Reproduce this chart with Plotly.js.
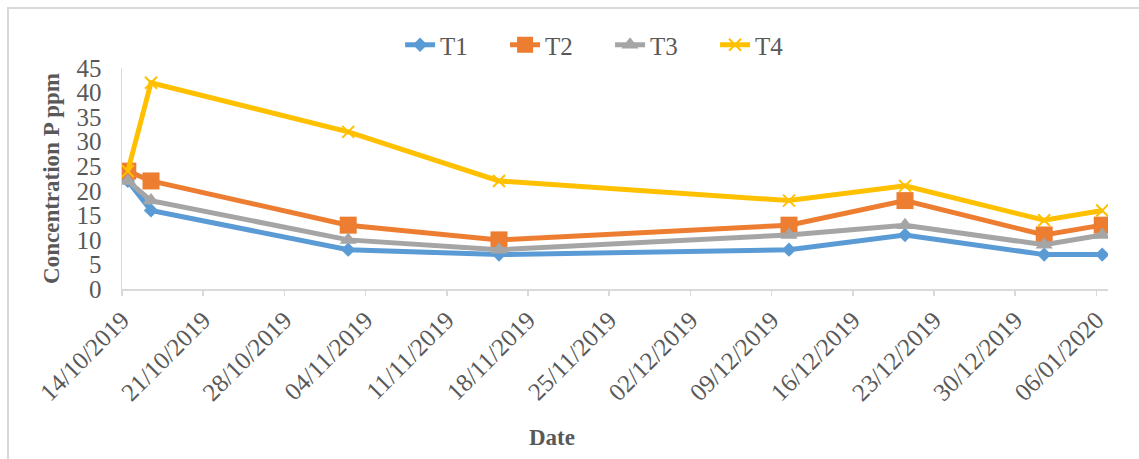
<!DOCTYPE html>
<html>
<head>
<meta charset="utf-8">
<script src="https://cdn.plot.ly/plotly-3.0.1.min.js"></script>
<style>
  html, body { margin: 0; padding: 0; background: #fff; }
  #wrap { position: relative; width: 1139px; height: 459px; }
  #chart { width: 1139px; height: 459px; }
  #frame {
    position: absolute; left: 7px; top: 7px; right: -2px; bottom: -2px;
    border-top: 2px solid #d9d9d9; border-left: 2px solid #d9d9d9;
    pointer-events: none;
  }
</style>
</head>
<body>
<div id="wrap">
  <div id="chart"></div>
  <div id="frame"></div>
</div>
<script>
// Sampling dates (day/month/year) and phosphorus concentration per treatment
const dates = ["2019-10-14", "2019-10-16", "2019-11-02", "2019-11-15",
               "2019-12-10", "2019-12-20", "2020-01-01", "2020-01-06"];
const T1 = [22, 16, 8, 7, 8, 11, 7, 7];
const T2 = [24, 22, 13, 10, 13, 18, 11, 13];
const T3 = [22, 18, 10, 8, 11, 13, 9, 11];
const T4 = [24, 42, 32, 22, 18, 21, 14, 16];

// Weekly tick labels
const tickLabels = ["14/10/2019", "21/10/2019", "28/10/2019", "04/11/2019",
  "11/11/2019", "18/11/2019", "25/11/2019", "02/12/2019", "09/12/2019",
  "16/12/2019", "23/12/2019", "30/12/2019", "06/01/2020"];

// Each day occupies a slot; points sit at mid-day, ticks at slot boundaries
const DAY = 86400000;
function toMs(s) { const p = s.split("-").map(Number); return Date.UTC(p[0], p[1] - 1, p[2]); }
function fromMs(ms) { return new Date(ms).toISOString().slice(0, 19).replace("T", " "); }
function labelToMs(l) { const p = l.split("/").map(Number); return Date.UTC(p[2], p[1] - 1, p[0]); }

const xs = dates.map(d => fromMs(toMs(d) + DAY / 2));
const tickVals = tickLabels.map(l => fromMs(labelToMs(l)));
const xStart = fromMs(labelToMs(tickLabels[0]));
const xEnd = fromMs(labelToMs(tickLabels[tickLabels.length - 1]) + DAY);

const font = "Liberation Serif, Times New Roman, serif";
const grey = "#595959";

function series(name, y, color, symbol, size, mline) {
  return {
    type: "scatter", mode: "lines+markers", name: name, x: xs, y: y,
    line: { color: color, width: 5 },
    marker: { color: color, symbol: symbol, size: size,
              line: mline ? { color: color, width: 2 } : { width: 0 } }
  };
}

const data = [
  series("T1", T1, "#5B9BD5", "diamond", 11),
  series("T2", T2, "#ED7D31", "square", 17),
  series("T3", T3, "#A5A5A5", "triangle-up", 15),
  series("T4", T4, "#FFC000", "x-thin", 12, true)
];

const layout = {
  width: 1139, height: 459,
  margin: { l: 122, r: 31, t: 68, b: 170, autoexpand: false },
  paper_bgcolor: "#fff", plot_bgcolor: "#fff",
  font: { family: font, color: grey, size: 25 },
  showlegend: true,
  legend: {
    orientation: "h", x: 0.495, xanchor: "center", y: 1.104, yanchor: "middle",
    font: { family: font, size: 25, color: grey },
    entrywidth: 60, entrywidthmode: "pixels"
  },
  xaxis: {
    type: "date", range: [xStart, xEnd],
    tickmode: "array", tickvals: tickVals, ticktext: tickLabels,
    tickangle: -45, tickfont: { family: font, size: 25, color: grey },
    showgrid: false, zeroline: false,
    showline: true, linecolor: "#d9d9d9", linewidth: 1.5,
    ticks: "outside", ticklen: 5, tickcolor: "#d9d9d9", tickwidth: 1.5
  },
  yaxis: {
    range: [0, 45], dtick: 5, tick0: 0,
    tickfont: { family: font, size: 25, color: grey },
    showgrid: false, zeroline: false,
    showline: true, linecolor: "#d9d9d9", linewidth: 1.5,
    ticks: "", ticklabelstandoff: 14,
    title: { text: "<b>Concentration P ppm</b>", font: { family: font, size: 23, color: grey }, standoff: 10 }
  },
  annotations: [{
    text: "<b>Date</b>", xref: "paper", yref: "paper",
    x: 0.436, y: -0.674, xanchor: "center", yanchor: "middle",
    showarrow: false, font: { family: font, size: 23, color: grey }
  }]
};

Plotly.newPlot("chart", data, layout, { displayModeBar: false, staticPlot: true });
</script>
</body>
</html>
